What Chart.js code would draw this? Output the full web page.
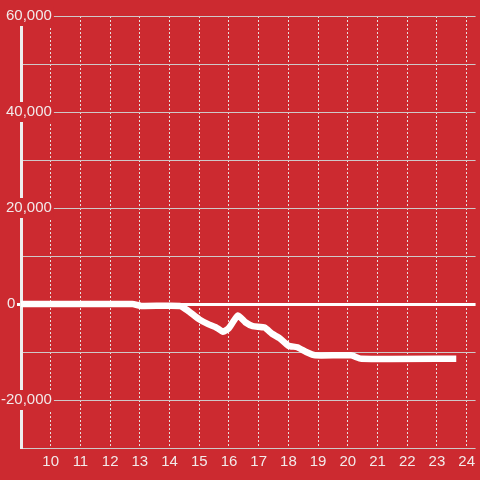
<!DOCTYPE html>
<html>
<head>
<meta charset="utf-8">
<script src="https://cdn.jsdelivr.net/npm/chart.js@4.4.1/dist/chart.umd.min.js"></script>
<style>
  html, body { margin: 0; padding: 0; background: #cc2a30; }
  #wrap { width: 480px; height: 480px; }
</style>
</head>
<body>
<div id="wrap"><canvas id="chart" width="480" height="480"></canvas></div>
<script>
// ---- data ----
const hours  = [9, 12.75, 13.05, 14.35, 14.6, 15.0, 15.3, 15.55, 15.8, 16.0, 16.3, 16.55, 16.8, 17.2, 17.45, 17.7, 18.0, 18.3, 18.6, 18.9, 20.1, 20.45, 23.65];
const values = [0, 0, -400, -400, -1300, -3200, -4200, -4800, -5800, -5000, -2400, -3800, -4600, -4900, -6200, -7100, -8700, -9000, -10000, -10700, -10700, -11400, -11400];

const yLabelled = [-20000, 20000, 40000, 60000];
const xLabelled = [10, 11, 12, 13, 14, 15, 16, 17, 18, 19, 20, 21, 22, 23, 24];

const RED = '#cc2a30';
const TEXT = '#f2eaea';
const FONT = { family: "'Liberation Sans', Arial, sans-serif", size: 15 };

const points = hours.map((h, i) => ({ x: h, y: values[i] }));
const isZero = (ctx) => ctx.tick && ctx.tick.value === 0;

new Chart(document.getElementById('chart'), {
    type: 'line',
    data: {
        datasets: [{
            data: points,
            borderColor: '#ffffff',
            borderWidth: 6.5,
            tension: 0.15,
            pointRadius: 0,
            borderJoinStyle: 'round',
            fill: false
        }]
    },
    options: {
        responsive: false,
        animation: false,
        layout: { padding: { top: 16, left: 0, right: 0, bottom: 0 } },
        plugins: { legend: { display: false }, tooltip: { enabled: false } },
        scales: {
            x: {
                type: 'linear',
                min: 9,
                max: 24.3,
                afterFit: (s) => { s.height = 32; },
                border: { display: false, dash: [2, 2] },
                grid: { color: '#e6dede', lineWidth: 1, drawTicks: false },
                ticks: {
                    stepSize: 1,
                    includeBounds: false,
                    autoSkip: false,
                    maxRotation: 0,
                    padding: 5,
                    color: TEXT,
                    font: FONT,
                    callback: (v) => xLabelled.includes(v) ? String(v) : ''
                }
            },
            y: {
                min: -30000,
                max: 60000,
                weight: 0,
                afterFit: (s) => { s.width = 21; },
                border: { display: true, color: '#eeeeee', width: 3 },
                grid: {
                    color: (ctx) => isZero(ctx) ? '#ffffff' : '#cfc8c8',
                    lineWidth: (ctx) => isZero(ctx) ? 3 : 1,
                    tickColor: (ctx) => isZero(ctx) ? '#ffffff' : 'rgba(0,0,0,0)',
                    tickWidth: (ctx) => isZero(ctx) ? 3 : 1,
                    tickLength: 4
                },
                ticks: {
                    stepSize: 10000,
                    autoSkip: false,
                    mirror: true,
                    crossAlign: 'far',
                    padding: -20,
                    color: TEXT,
                    font: FONT,
                    showLabelBackdrop: (ctx) => ctx.tick && yLabelled.includes(ctx.tick.value),
                    backdropColor: RED,
                    backdropPadding: { top: 1, bottom: 1, left: 16, right: 2 },
                    callback: (v) => yLabelled.includes(v) ? v.toLocaleString('en-US') : ''
                }
            },
            yZero: {
                position: 'left',
                min: -30000,
                max: 60000,
                weight: 10,
                afterFit: (s) => { s.width = 0; },
                border: { display: false },
                grid: { display: false, drawTicks: false },
                ticks: {
                    stepSize: 10000,
                    autoSkip: false,
                    mirror: true,
                    crossAlign: 'near',
                    padding: 7,
                    color: TEXT,
                    font: FONT,
                    callback: (v) => v === 0 ? '0' : ''
                }
            }
        }
    }
});
</script>
</body>
</html>
